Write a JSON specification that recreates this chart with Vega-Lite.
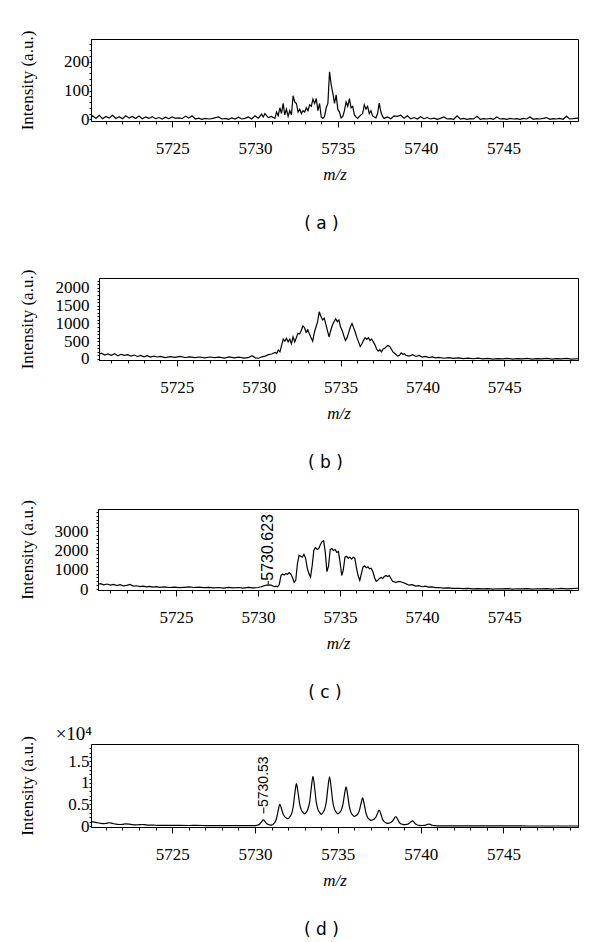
{
  "$schema": "https://vega.github.io/schema/vega-lite/v6.json",
  "background": "white",
  "padding": {"left": 16, "top": 29, "right": 5, "bottom": 2},
  "config": {
    "view": {"stroke": "black", "strokeWidth": 1},
    "axis": {"grid": false, "domainColor": "black", "tickColor": "black", "labelColor": "black", "titleColor": "black", "labelFont": "Liberation Serif", "titleFont": "Liberation Serif", "labelFontSize": 17, "titleFontSize": 17, "titleFontWeight": "normal", "domainWidth": 1, "labelOverlap": false, "labelBound": false},
    "title": {"font": "DejaVu Sans", "fontSize": 17, "fontWeight": "normal", "color": "black"}
  },
  "datasets": {
    "a": [
      {"mz":5720.1,"i":5},{"mz":5720.2,"i":12},{"mz":5720.4,"i":3},{"mz":5720.6,"i":14},{"mz":5720.8,"i":2},{"mz":5721.0,"i":10},{"mz":5721.2,"i":4},{"mz":5721.4,"i":14},{"mz":5721.6,"i":3},{"mz":5721.8,"i":9},{"mz":5722.0,"i":2},{"mz":5722.2,"i":12},{"mz":5722.4,"i":4},{"mz":5722.6,"i":10},{"mz":5722.8,"i":3},{"mz":5723.0,"i":11},{"mz":5723.2,"i":2},{"mz":5723.4,"i":8},{"mz":5723.6,"i":3},{"mz":5723.8,"i":9},{"mz":5724.0,"i":2},{"mz":5724.2,"i":6},{"mz":5724.4,"i":1},{"mz":5724.6,"i":7},{"mz":5724.8,"i":2},{"mz":5725.0,"i":8},{"mz":5725.2,"i":3},{"mz":5725.4,"i":5},{"mz":5725.6,"i":2},{"mz":5725.8,"i":11},{"mz":5726.0,"i":4},{"mz":5726.2,"i":12},{"mz":5726.4,"i":1},{"mz":5726.6,"i":4},{"mz":5726.8,"i":0},{"mz":5727.0,"i":3},{"mz":5727.2,"i":1},{"mz":5727.4,"i":2},{"mz":5727.8,"i":8},{"mz":5728.0,"i":1},{"mz":5728.2,"i":3},{"mz":5728.4,"i":0},{"mz":5728.6,"i":5},{"mz":5728.8,"i":1},{"mz":5729.0,"i":7},{"mz":5729.2,"i":1},{"mz":5729.4,"i":3},{"mz":5729.6,"i":8},{"mz":5729.8,"i":1},{"mz":5730.0,"i":12},{"mz":5730.2,"i":4},{"mz":5730.4,"i":18},{"mz":5730.5,"i":8},{"mz":5730.6,"i":20},{"mz":5730.8,"i":6},{"mz":5731.0,"i":10},{"mz":5731.2,"i":3},{"mz":5731.3,"i":25},{"mz":5731.4,"i":12},{"mz":5731.5,"i":40},{"mz":5731.6,"i":20},{"mz":5731.7,"i":55},{"mz":5731.8,"i":15},{"mz":5731.9,"i":35},{"mz":5732.0,"i":10},{"mz":5732.1,"i":30},{"mz":5732.2,"i":15},{"mz":5732.3,"i":82},{"mz":5732.4,"i":60},{"mz":5732.5,"i":55},{"mz":5732.6,"i":25},{"mz":5732.7,"i":35},{"mz":5732.8,"i":20},{"mz":5732.9,"i":30},{"mz":5733.0,"i":25},{"mz":5733.1,"i":40},{"mz":5733.2,"i":30},{"mz":5733.3,"i":50},{"mz":5733.4,"i":45},{"mz":5733.5,"i":70},{"mz":5733.6,"i":55},{"mz":5733.7,"i":72},{"mz":5733.8,"i":30},{"mz":5733.9,"i":55},{"mz":5734.0,"i":8},{"mz":5734.1,"i":3},{"mz":5734.2,"i":10},{"mz":5734.3,"i":40},{"mz":5734.4,"i":55},{"mz":5734.5,"i":165},{"mz":5734.6,"i":120},{"mz":5734.7,"i":90},{"mz":5734.8,"i":55},{"mz":5734.9,"i":85},{"mz":5735.0,"i":35},{"mz":5735.1,"i":25},{"mz":5735.2,"i":5},{"mz":5735.3,"i":10},{"mz":5735.4,"i":30},{"mz":5735.5,"i":60},{"mz":5735.6,"i":45},{"mz":5735.7,"i":72},{"mz":5735.8,"i":40},{"mz":5735.9,"i":45},{"mz":5736.0,"i":15},{"mz":5736.1,"i":8},{"mz":5736.2,"i":3},{"mz":5736.3,"i":10},{"mz":5736.5,"i":20},{"mz":5736.6,"i":50},{"mz":5736.7,"i":35},{"mz":5736.8,"i":45},{"mz":5736.9,"i":20},{"mz":5737.0,"i":30},{"mz":5737.1,"i":12},{"mz":5737.2,"i":8},{"mz":5737.3,"i":5},{"mz":5737.4,"i":20},{"mz":5737.5,"i":56},{"mz":5737.6,"i":25},{"mz":5737.7,"i":10},{"mz":5737.8,"i":3},{"mz":5738.0,"i":8},{"mz":5738.2,"i":2},{"mz":5738.4,"i":12},{"mz":5738.6,"i":10},{"mz":5738.8,"i":14},{"mz":5739.0,"i":4},{"mz":5739.2,"i":12},{"mz":5739.4,"i":2},{"mz":5739.6,"i":6},{"mz":5739.8,"i":1},{"mz":5740.0,"i":9},{"mz":5740.2,"i":2},{"mz":5740.4,"i":6},{"mz":5740.6,"i":1},{"mz":5740.8,"i":4},{"mz":5741.0,"i":0},{"mz":5741.2,"i":3},{"mz":5741.4,"i":8},{"mz":5741.6,"i":1},{"mz":5741.8,"i":2},{"mz":5742.0,"i":0},{"mz":5742.2,"i":12},{"mz":5742.4,"i":1},{"mz":5742.6,"i":3},{"mz":5742.8,"i":0},{"mz":5743.0,"i":2},{"mz":5743.2,"i":1},{"mz":5743.4,"i":10},{"mz":5743.6,"i":0},{"mz":5743.8,"i":2},{"mz":5744.0,"i":1},{"mz":5744.2,"i":3},{"mz":5744.4,"i":0},{"mz":5744.6,"i":8},{"mz":5744.8,"i":1},{"mz":5745.0,"i":2},{"mz":5745.2,"i":0},{"mz":5745.4,"i":3},{"mz":5745.6,"i":1},{"mz":5745.8,"i":2},{"mz":5746.0,"i":0},{"mz":5746.2,"i":3},{"mz":5746.4,"i":1},{"mz":5746.6,"i":8},{"mz":5746.8,"i":0},{"mz":5747.0,"i":2},{"mz":5747.2,"i":1},{"mz":5747.4,"i":3},{"mz":5747.6,"i":6},{"mz":5747.8,"i":0},{"mz":5748.0,"i":2},{"mz":5748.2,"i":1},{"mz":5748.4,"i":3},{"mz":5748.6,"i":0},{"mz":5748.8,"i":10},{"mz":5749.0,"i":1},{"mz":5749.2,"i":2},{"mz":5749.5,"i":4}
    ],
    "b": [
      {"mz":5720.25,"i":130},{"mz":5720.4,"i":160},{"mz":5720.6,"i":110},{"mz":5720.8,"i":140},{"mz":5721.0,"i":100},{"mz":5721.2,"i":150},{"mz":5721.4,"i":90},{"mz":5721.6,"i":130},{"mz":5721.8,"i":100},{"mz":5722.0,"i":120},{"mz":5722.2,"i":80},{"mz":5722.4,"i":110},{"mz":5722.6,"i":70},{"mz":5722.8,"i":100},{"mz":5723.0,"i":60},{"mz":5723.2,"i":90},{"mz":5723.4,"i":50},{"mz":5723.6,"i":80},{"mz":5723.8,"i":55},{"mz":5724.0,"i":70},{"mz":5724.3,"i":40},{"mz":5724.6,"i":65},{"mz":5724.9,"i":45},{"mz":5725.2,"i":70},{"mz":5725.5,"i":40},{"mz":5725.8,"i":60},{"mz":5726.1,"i":35},{"mz":5726.4,"i":55},{"mz":5726.7,"i":30},{"mz":5727.0,"i":55},{"mz":5727.3,"i":35},{"mz":5727.6,"i":50},{"mz":5727.9,"i":25},{"mz":5728.2,"i":55},{"mz":5728.5,"i":30},{"mz":5728.8,"i":50},{"mz":5729.1,"i":25},{"mz":5729.4,"i":45},{"mz":5729.6,"i":90},{"mz":5729.8,"i":30},{"mz":5730.0,"i":20},{"mz":5730.2,"i":60},{"mz":5730.4,"i":80},{"mz":5730.6,"i":120},{"mz":5730.8,"i":140},{"mz":5731.0,"i":180},{"mz":5731.1,"i":150},{"mz":5731.2,"i":250},{"mz":5731.3,"i":200},{"mz":5731.4,"i":380},{"mz":5731.5,"i":560},{"mz":5731.6,"i":500},{"mz":5731.7,"i":580},{"mz":5731.8,"i":480},{"mz":5731.9,"i":560},{"mz":5732.0,"i":430},{"mz":5732.1,"i":620},{"mz":5732.2,"i":480},{"mz":5732.3,"i":600},{"mz":5732.4,"i":720},{"mz":5732.5,"i":700},{"mz":5732.6,"i":800},{"mz":5732.7,"i":930},{"mz":5732.8,"i":880},{"mz":5732.9,"i":750},{"mz":5733.0,"i":820},{"mz":5733.1,"i":700},{"mz":5733.2,"i":600},{"mz":5733.3,"i":500},{"mz":5733.4,"i":750},{"mz":5733.5,"i":900},{"mz":5733.6,"i":1050},{"mz":5733.7,"i":1330},{"mz":5733.8,"i":1200},{"mz":5733.9,"i":1100},{"mz":5734.0,"i":1150},{"mz":5734.1,"i":980},{"mz":5734.2,"i":800},{"mz":5734.3,"i":620},{"mz":5734.4,"i":800},{"mz":5734.5,"i":950},{"mz":5734.6,"i":1050},{"mz":5734.7,"i":1130},{"mz":5734.8,"i":1050},{"mz":5734.9,"i":1100},{"mz":5735.0,"i":900},{"mz":5735.1,"i":800},{"mz":5735.2,"i":650},{"mz":5735.3,"i":520},{"mz":5735.4,"i":600},{"mz":5735.5,"i":750},{"mz":5735.6,"i":900},{"mz":5735.7,"i":1000},{"mz":5735.8,"i":880},{"mz":5735.9,"i":750},{"mz":5736.0,"i":600},{"mz":5736.1,"i":480},{"mz":5736.2,"i":350},{"mz":5736.3,"i":420},{"mz":5736.4,"i":520},{"mz":5736.5,"i":600},{"mz":5736.6,"i":550},{"mz":5736.7,"i":600},{"mz":5736.8,"i":520},{"mz":5736.9,"i":560},{"mz":5737.0,"i":480},{"mz":5737.1,"i":400},{"mz":5737.2,"i":280},{"mz":5737.3,"i":220},{"mz":5737.4,"i":260},{"mz":5737.5,"i":200},{"mz":5737.6,"i":280},{"mz":5737.7,"i":300},{"mz":5737.8,"i":350},{"mz":5737.9,"i":380},{"mz":5738.0,"i":350},{"mz":5738.1,"i":280},{"mz":5738.2,"i":200},{"mz":5738.3,"i":160},{"mz":5738.4,"i":120},{"mz":5738.5,"i":80},{"mz":5738.6,"i":100},{"mz":5738.7,"i":170},{"mz":5738.8,"i":130},{"mz":5738.9,"i":150},{"mz":5739.0,"i":100},{"mz":5739.2,"i":80},{"mz":5739.4,"i":120},{"mz":5739.6,"i":70},{"mz":5739.8,"i":100},{"mz":5740.0,"i":50},{"mz":5740.2,"i":70},{"mz":5740.4,"i":40},{"mz":5740.6,"i":60},{"mz":5740.8,"i":30},{"mz":5741.0,"i":45},{"mz":5741.3,"i":20},{"mz":5741.6,"i":35},{"mz":5741.9,"i":15},{"mz":5742.2,"i":30},{"mz":5742.5,"i":10},{"mz":5742.8,"i":25},{"mz":5743.1,"i":5},{"mz":5743.4,"i":20},{"mz":5743.7,"i":0},{"mz":5744.0,"i":15},{"mz":5744.3,"i":-5},{"mz":5744.6,"i":10},{"mz":5744.9,"i":0},{"mz":5745.2,"i":15},{"mz":5745.5,"i":-5},{"mz":5745.8,"i":10},{"mz":5746.1,"i":0},{"mz":5746.4,"i":15},{"mz":5746.7,"i":-5},{"mz":5747.0,"i":10},{"mz":5747.3,"i":0},{"mz":5747.6,"i":15},{"mz":5747.9,"i":-5},{"mz":5748.2,"i":10},{"mz":5748.5,"i":0},{"mz":5748.8,"i":15},{"mz":5749.1,"i":-5},{"mz":5749.5,"i":5}
    ],
    "c": [
      {"mz":5720.25,"i":250},{"mz":5720.4,"i":280},{"mz":5720.6,"i":220},{"mz":5720.8,"i":260},{"mz":5721.0,"i":200},{"mz":5721.2,"i":240},{"mz":5721.4,"i":180},{"mz":5721.6,"i":230},{"mz":5721.8,"i":160},{"mz":5722.0,"i":190},{"mz":5722.2,"i":240},{"mz":5722.4,"i":150},{"mz":5722.6,"i":170},{"mz":5722.8,"i":130},{"mz":5723.0,"i":150},{"mz":5723.2,"i":110},{"mz":5723.4,"i":140},{"mz":5723.6,"i":100},{"mz":5723.8,"i":120},{"mz":5724.0,"i":90},{"mz":5724.3,"i":110},{"mz":5724.6,"i":80},{"mz":5724.9,"i":100},{"mz":5725.2,"i":70},{"mz":5725.5,"i":90},{"mz":5725.8,"i":110},{"mz":5726.1,"i":80},{"mz":5726.4,"i":100},{"mz":5726.7,"i":70},{"mz":5727.0,"i":90},{"mz":5727.3,"i":60},{"mz":5727.6,"i":80},{"mz":5727.9,"i":50},{"mz":5728.2,"i":90},{"mz":5728.5,"i":60},{"mz":5728.8,"i":80},{"mz":5729.1,"i":50},{"mz":5729.4,"i":90},{"mz":5729.7,"i":60},{"mz":5730.0,"i":80},{"mz":5730.2,"i":120},{"mz":5730.4,"i":180},{"mz":5730.6,"i":220},{"mz":5730.8,"i":200},{"mz":5731.0,"i":120},{"mz":5731.1,"i":150},{"mz":5731.2,"i":120},{"mz":5731.3,"i":250},{"mz":5731.4,"i":700},{"mz":5731.5,"i":780},{"mz":5731.6,"i":730},{"mz":5731.7,"i":800},{"mz":5731.8,"i":760},{"mz":5731.9,"i":850},{"mz":5732.0,"i":780},{"mz":5732.1,"i":600},{"mz":5732.2,"i":350},{"mz":5732.3,"i":450},{"mz":5732.4,"i":1300},{"mz":5732.5,"i":1750},{"mz":5732.6,"i":1700},{"mz":5732.7,"i":1650},{"mz":5732.8,"i":1800},{"mz":5732.9,"i":1600},{"mz":5733.0,"i":1100},{"mz":5733.1,"i":800},{"mz":5733.2,"i":620},{"mz":5733.3,"i":1200},{"mz":5733.4,"i":2000},{"mz":5733.5,"i":2150},{"mz":5733.6,"i":2050},{"mz":5733.7,"i":2100},{"mz":5733.8,"i":2300},{"mz":5733.9,"i":2450},{"mz":5734.0,"i":2500},{"mz":5734.1,"i":1900},{"mz":5734.2,"i":900},{"mz":5734.3,"i":1200},{"mz":5734.4,"i":2050},{"mz":5734.5,"i":2100},{"mz":5734.6,"i":2000},{"mz":5734.7,"i":2050},{"mz":5734.8,"i":1900},{"mz":5734.9,"i":1950},{"mz":5735.0,"i":1400},{"mz":5735.1,"i":700},{"mz":5735.2,"i":1000},{"mz":5735.3,"i":1650},{"mz":5735.4,"i":1700},{"mz":5735.5,"i":1600},{"mz":5735.6,"i":1650},{"mz":5735.7,"i":1550},{"mz":5735.8,"i":1650},{"mz":5735.9,"i":1600},{"mz":5736.0,"i":1100},{"mz":5736.1,"i":700},{"mz":5736.2,"i":450},{"mz":5736.3,"i":800},{"mz":5736.4,"i":1150},{"mz":5736.5,"i":1200},{"mz":5736.6,"i":1100},{"mz":5736.7,"i":1150},{"mz":5736.8,"i":1050},{"mz":5736.9,"i":1080},{"mz":5737.0,"i":900},{"mz":5737.1,"i":600},{"mz":5737.2,"i":400},{"mz":5737.3,"i":450},{"mz":5737.4,"i":550},{"mz":5737.5,"i":600},{"mz":5737.6,"i":550},{"mz":5737.7,"i":650},{"mz":5737.8,"i":700},{"mz":5737.9,"i":650},{"mz":5738.0,"i":700},{"mz":5738.1,"i":550},{"mz":5738.2,"i":400},{"mz":5738.4,"i":350},{"mz":5738.6,"i":400},{"mz":5738.8,"i":350},{"mz":5739.0,"i":280},{"mz":5739.2,"i":200},{"mz":5739.4,"i":230},{"mz":5739.6,"i":150},{"mz":5739.8,"i":180},{"mz":5740.0,"i":120},{"mz":5740.2,"i":150},{"mz":5740.4,"i":100},{"mz":5740.6,"i":110},{"mz":5740.8,"i":70},{"mz":5741.0,"i":80},{"mz":5741.3,"i":50},{"mz":5741.6,"i":60},{"mz":5741.9,"i":30},{"mz":5742.2,"i":40},{"mz":5742.5,"i":20},{"mz":5742.8,"i":35},{"mz":5743.1,"i":10},{"mz":5743.4,"i":25},{"mz":5743.7,"i":5},{"mz":5744.0,"i":20},{"mz":5744.3,"i":0},{"mz":5744.6,"i":15},{"mz":5744.9,"i":5},{"mz":5745.2,"i":20},{"mz":5745.5,"i":0},{"mz":5745.8,"i":15},{"mz":5746.1,"i":5},{"mz":5746.4,"i":20},{"mz":5746.7,"i":0},{"mz":5747.0,"i":15},{"mz":5747.3,"i":5},{"mz":5747.6,"i":20},{"mz":5747.9,"i":0},{"mz":5748.2,"i":15},{"mz":5748.5,"i":30},{"mz":5748.8,"i":5},{"mz":5749.1,"i":20},{"mz":5749.5,"i":40}
    ],
    "d": [
      {"mz":5720.1,"i":1000},{"mz":5720.3,"i":900},{"mz":5720.5,"i":750},{"mz":5720.7,"i":600},{"mz":5720.9,"i":550},{"mz":5721.0,"i":600},{"mz":5721.2,"i":750},{"mz":5721.4,"i":600},{"mz":5721.6,"i":420},{"mz":5721.8,"i":350},{"mz":5722.0,"i":400},{"mz":5722.2,"i":500},{"mz":5722.4,"i":450},{"mz":5722.6,"i":320},{"mz":5722.8,"i":260},{"mz":5723.0,"i":300},{"mz":5723.2,"i":350},{"mz":5723.4,"i":260},{"mz":5723.6,"i":200},{"mz":5724.0,"i":180},{"mz":5724.5,"i":150},{"mz":5725.0,"i":160},{"mz":5725.5,"i":130},{"mz":5726.0,"i":120},{"mz":5726.5,"i":130},{"mz":5727.0,"i":110},{"mz":5727.5,"i":100},{"mz":5728.0,"i":110},{"mz":5728.5,"i":100},{"mz":5729.0,"i":90},{"mz":5729.5,"i":100},{"mz":5729.8,"i":110},{"mz":5730.0,"i":100},
      {"mz":5730.1,"i":165},{"mz":5730.2,"i":269},{"mz":5730.3,"i":516},{"mz":5730.4,"i":1010},{"mz":5730.5,"i":1400},{"mz":5730.6,"i":1040},{"mz":5730.7,"i":584},{"mz":5730.8,"i":356},{"mz":5730.9,"i":260},{"mz":5731.0,"i":200},
      {"mz":5731.1,"i":440},{"mz":5731.2,"i":824},{"mz":5731.3,"i":1736},{"mz":5731.4,"i":3560},{"mz":5731.5,"i":5000},{"mz":5731.6,"i":4010},{"mz":5731.7,"i":2756},{"mz":5731.8,"i":2129},{"mz":5731.9,"i":1865},{"mz":5732.0,"i":1700},
      {"mz":5732.1,"i":2105},{"mz":5732.2,"i":2753},{"mz":5732.3,"i":4292},{"mz":5732.4,"i":7370},{"mz":5732.5,"i":9800},{"mz":5732.6,"i":7700},{"mz":5732.7,"i":5040},{"mz":5732.8,"i":3710},{"mz":5732.9,"i":3150},{"mz":5733.0,"i":2800},
      {"mz":5733.1,"i":3235},{"mz":5733.2,"i":3931},{"mz":5733.3,"i":5584},{"mz":5733.4,"i":8890},{"mz":5733.5,"i":11500},{"mz":5733.6,"i":8860},{"mz":5733.7,"i":5516},{"mz":5733.8,"i":3844},{"mz":5733.9,"i":3140},{"mz":5734.0,"i":2700},
      {"mz":5734.1,"i":3135},{"mz":5734.2,"i":3831},{"mz":5734.3,"i":5484},{"mz":5734.4,"i":8790},{"mz":5734.5,"i":11400},{"mz":5734.6,"i":8820},{"mz":5734.7,"i":5552},{"mz":5734.8,"i":3918},{"mz":5734.9,"i":3230},{"mz":5735.0,"i":2800},
      {"mz":5735.1,"i":3115},{"mz":5735.2,"i":3619},{"mz":5735.3,"i":4816},{"mz":5735.4,"i":7210},{"mz":5735.5,"i":9100},{"mz":5735.6,"i":7030},{"mz":5735.7,"i":4408},{"mz":5735.8,"i":3097},{"mz":5735.9,"i":2545},{"mz":5736.0,"i":2200},
      {"mz":5736.1,"i":2415},{"mz":5736.2,"i":2759},{"mz":5736.3,"i":3576},{"mz":5736.4,"i":5210},{"mz":5736.5,"i":6500},{"mz":5736.6,"i":4940},{"mz":5736.7,"i":2964},{"mz":5736.8,"i":1976},{"mz":5736.9,"i":1560},{"mz":5737.0,"i":1300},
      {"mz":5737.1,"i":1420},{"mz":5737.2,"i":1612},{"mz":5737.3,"i":2068},{"mz":5737.4,"i":2980},{"mz":5737.5,"i":3700},{"mz":5737.6,"i":2770},{"mz":5737.7,"i":1592},{"mz":5737.8,"i":1003},{"mz":5737.9,"i":755},{"mz":5738.0,"i":600},
      {"mz":5738.1,"i":680},{"mz":5738.2,"i":808},{"mz":5738.3,"i":1112},{"mz":5738.4,"i":1720},{"mz":5738.5,"i":2200},{"mz":5738.6,"i":1630},{"mz":5738.7,"i":908},{"mz":5738.8,"i":547},{"mz":5738.9,"i":395},{"mz":5739.0,"i":300},
      {"mz":5739.1,"i":345},{"mz":5739.2,"i":417},{"mz":5739.3,"i":588},{"mz":5739.4,"i":930},{"mz":5739.5,"i":1200},{"mz":5739.6,"i":870},{"mz":5739.7,"i":452},{"mz":5739.8,"i":243},{"mz":5739.9,"i":155},{"mz":5740.0,"i":100},
      {"mz":5740.1,"i":118},{"mz":5740.2,"i":146},{"mz":5740.3,"i":212},{"mz":5740.4,"i":345},{"mz":5740.5,"i":450},{"mz":5740.6,"i":330},{"mz":5740.7,"i":178},{"mz":5740.8,"i":102},{"mz":5740.9,"i":70},{"mz":5741.0,"i":50},
      {"mz":5741.5,"i":40},{"mz":5742.0,"i":30},{"mz":5743.0,"i":20},{"mz":5744.0,"i":15},{"mz":5745.0,"i":10},{"mz":5746.0,"i":10},{"mz":5747.0,"i":5},{"mz":5748.0,"i":5},{"mz":5749.5,"i":5}
    ]
  },
  "vconcat": [
    {
      "vconcat": [
        {
          "hconcat": [
            {"width": 1, "height": 1, "view": {"stroke": null}, "data": {"values": [{}]}, "mark": {"type": "text"}, "encoding": {"text": {"value": ""}}},
            {
              "width": 487, "height": 82,
              "title": {"text": "( a )", "orient": "bottom", "anchor": "middle", "frame": "group", "offset": 34, "dx": -13},
              "data": {"name": "a"},
              "mark": {"type": "line", "color": "black", "strokeWidth": 1.2, "interpolate": "linear"},
              "encoding": {
                "x": {"field": "mz", "type": "quantitative", "scale": {"domain": [5720.1, 5749.5], "nice": false, "zero": false},
                      "axis": {"title": "m/z", "titleFontStyle": "italic", "format": "d", "labelOverlap": false, "values": [5721,5722,5723,5724,5725,5726,5727,5728,5729,5730,5731,5732,5733,5734,5735,5736,5737,5738,5739,5740,5741,5742,5743,5744,5745,5746,5747,5748,5749], "labelExpr": "datum.value % 5 === 0 ? datum.label : ''", "tickSize": {"condition": {"test": "datum.value % 5 === 0", "value": 6}, "value": 3}, "labelPadding": 13, "titlePadding": 10, "labelFlush": false}},
                "y": {"field": "i", "type": "quantitative", "scale": {"domain": [-6, 279], "nice": false, "zero": false},
                      "axis": {"title": "Intensity (a.u.)", "format": "d", "labelOverlap": false, "values": [0,20,40,60,80,100,120,140,160,180,200,220,240,260], "labelExpr": "datum.value % 100 === 0 ? datum.label : ''", "tickSize": 2, "labelPadding": 0, "minExtent": 51, "maxExtent": 51, "titlePadding": 4}}
              }
            }
          ],
          "spacing": 0
        },
        {
          "hconcat": [
            {"width": 1, "height": 1, "view": {"stroke": null}, "data": {"values": [{}]}, "mark": {"type": "text"}, "encoding": {"text": {"value": ""}}},
            {
              "width": 479, "height": 82,
              "title": {"text": "( b )", "orient": "bottom", "anchor": "middle", "frame": "group", "offset": 34, "dx": -13},
              "data": {"name": "b"},
              "mark": {"type": "line", "color": "black", "strokeWidth": 1.2, "interpolate": "linear"},
              "encoding": {
                "x": {"field": "mz", "type": "quantitative", "scale": {"domain": [5720.25, 5749.5], "nice": false, "zero": false},
                      "axis": {"title": "m/z", "titleFontStyle": "italic", "format": "d", "labelOverlap": false, "values": [5721,5722,5723,5724,5725,5726,5727,5728,5729,5730,5731,5732,5733,5734,5735,5736,5737,5738,5739,5740,5741,5742,5743,5744,5745,5746,5747,5748,5749], "labelExpr": "datum.value % 5 === 0 ? datum.label : ''", "tickSize": {"condition": {"test": "datum.value % 5 === 0", "value": 6}, "value": 3}, "labelPadding": 13, "titlePadding": 10, "labelFlush": false}},
                "y": {"field": "i", "type": "quantitative", "scale": {"domain": [-30, 2280], "nice": false, "zero": false},
                      "axis": {"title": "Intensity (a.u.)", "format": "d", "labelOverlap": false, "values": [0,100,200,300,400,500,600,700,800,900,1000,1100,1200,1300,1400,1500,1600,1700,1800,1900,2000,2100,2200], "labelExpr": "datum.value % 500 === 0 ? datum.label : ''", "tickSize": 2, "labelPadding": 8, "minExtent": 59, "maxExtent": 59, "titlePadding": 4}}
              }
            }
          ],
          "spacing": 0
        }
      ],
      "spacing": 35, "bounds": "full", "align": "none"
    },
    {
      "vconcat": [
        {
          "hconcat": [
            {"width": 1, "height": 1, "view": {"stroke": null}, "data": {"values": [{}]}, "mark": {"type": "text"}, "encoding": {"text": {"value": ""}}},
            {
              "width": 480, "height": 81,
              "title": {"text": "( c )", "orient": "bottom", "anchor": "middle", "frame": "group", "offset": 34, "dx": -13},
              "layer": [
                {
                  "data": {"name": "c"},
                  "mark": {"type": "line", "color": "black", "strokeWidth": 1.2, "interpolate": "linear"},
                  "encoding": {
                    "x": {"field": "mz", "type": "quantitative", "scale": {"domain": [5720.25, 5749.5], "nice": false, "zero": false},
                          "axis": {"title": "m/z", "titleFontStyle": "italic", "format": "d", "labelOverlap": false, "values": [5721,5722,5723,5724,5725,5726,5727,5728,5729,5730,5731,5732,5733,5734,5735,5736,5737,5738,5739,5740,5741,5742,5743,5744,5745,5746,5747,5748,5749], "labelExpr": "datum.value % 5 === 0 ? datum.label : ''", "tickSize": {"condition": {"test": "datum.value % 5 === 0", "value": 6}, "value": 3}, "labelPadding": 13, "titlePadding": 10, "labelFlush": false}},
                    "y": {"field": "i", "type": "quantitative", "scale": {"domain": [-50, 4150], "nice": false, "zero": false},
                          "axis": {"title": "Intensity (a.u.)", "format": "d", "labelOverlap": false, "values": [0,200,400,600,800,1000,1200,1400,1600,1800,2000,2200,2400,2600,2800,3000,3200,3400,3600,3800,4000], "labelExpr": "datum.value % 1000 === 0 && datum.value <= 3000 ? datum.label : ''", "tickSize": 2, "labelPadding": 8, "minExtent": 58, "maxExtent": 58, "titlePadding": 4}}
                  }
                },
                {
                  "data": {"values": [{"mz": 5730.623, "i": 260, "i2": 420}]},
                  "mark": {"type": "rule", "color": "black", "strokeWidth": 1},
                  "encoding": {
                    "x": {"field": "mz", "type": "quantitative", "axis": {"title": "m/z", "titleFontStyle": "italic", "format": "d", "labelOverlap": false, "values": [5721,5722,5723,5724,5725,5726,5727,5728,5729,5730,5731,5732,5733,5734,5735,5736,5737,5738,5739,5740,5741,5742,5743,5744,5745,5746,5747,5748,5749], "labelExpr": "datum.value % 5 === 0 ? datum.label : ''", "tickSize": {"condition": {"test": "datum.value % 5 === 0", "value": 6}, "value": 3}, "labelPadding": 13, "titlePadding": 10, "labelFlush": false}},
                    "y": {"field": "i", "type": "quantitative", "axis": {"title": "Intensity (a.u.)", "format": "d", "labelOverlap": false, "values": [0,200,400,600,800,1000,1200,1400,1600,1800,2000,2200,2400,2600,2800,3000,3200,3400,3600,3800,4000], "labelExpr": "datum.value % 1000 === 0 && datum.value <= 3000 ? datum.label : ''", "tickSize": 2, "labelPadding": 8, "minExtent": 58, "maxExtent": 58, "titlePadding": 4}},
                    "y2": {"field": "i2"}
                  }
                },
                {
                  "data": {"values": [{"mz": 5730.623, "i": 430, "label": "5730.623"}]},
                  "mark": {"type": "text", "angle": 270, "align": "left", "baseline": "middle", "font": "Liberation Sans", "fontSize": 16, "color": "black"},
                  "encoding": {
                    "x": {"field": "mz", "type": "quantitative", "axis": {"title": "m/z", "titleFontStyle": "italic", "format": "d", "labelOverlap": false, "values": [5721,5722,5723,5724,5725,5726,5727,5728,5729,5730,5731,5732,5733,5734,5735,5736,5737,5738,5739,5740,5741,5742,5743,5744,5745,5746,5747,5748,5749], "labelExpr": "datum.value % 5 === 0 ? datum.label : ''", "tickSize": {"condition": {"test": "datum.value % 5 === 0", "value": 6}, "value": 3}, "labelPadding": 13, "titlePadding": 10, "labelFlush": false}},
                    "y": {"field": "i", "type": "quantitative", "axis": {"title": "Intensity (a.u.)", "format": "d", "labelOverlap": false, "values": [0,200,400,600,800,1000,1200,1400,1600,1800,2000,2200,2400,2600,2800,3000,3200,3400,3600,3800,4000], "labelExpr": "datum.value % 1000 === 0 && datum.value <= 3000 ? datum.label : ''", "tickSize": 2, "labelPadding": 8, "minExtent": 58, "maxExtent": 58, "titlePadding": 4}},
                    "text": {"field": "label"}
                  }
                }
              ]
            }
          ],
          "spacing": 0
        },
        {
          "hconcat": [
            {"width": 1, "height": 1, "view": {"stroke": null}, "data": {"values": [{}]}, "mark": {"type": "text"}, "encoding": {"text": {"value": ""}}},
            {
              "width": 487, "height": 83,
              "title": {"text": "( d )", "orient": "bottom", "anchor": "middle", "frame": "group", "offset": 34, "dx": -13},
              "layer": [
                {
                  "data": {"name": "d"},
                  "mark": {"type": "line", "color": "black", "strokeWidth": 1.2, "interpolate": "monotone"},
                  "encoding": {
                    "x": {"field": "mz", "type": "quantitative", "scale": {"domain": [5720.1, 5749.5], "nice": false, "zero": false},
                          "axis": {"title": "m/z", "titleFontStyle": "italic", "format": "d", "labelOverlap": false, "values": [5721,5722,5723,5724,5725,5726,5727,5728,5729,5730,5731,5732,5733,5734,5735,5736,5737,5738,5739,5740,5741,5742,5743,5744,5745,5746,5747,5748,5749], "labelExpr": "datum.value % 5 === 0 ? datum.label : ''", "tickSize": {"condition": {"test": "datum.value % 5 === 0", "value": 6}, "value": 3}, "labelPadding": 13, "titlePadding": 10, "labelFlush": false}},
                    "y": {"field": "i", "type": "quantitative", "scale": {"domain": [-230, 19000], "nice": false, "zero": false},
                          "axis": {"title": "Intensity (a.u.)", "labelOverlap": false, "values": [0,1000,2000,3000,4000,5000,6000,7000,8000,9000,10000,11000,12000,13000,14000,15000,16000,17000,18000], "labelExpr": "datum.value % 5000 === 0 ? '' + (datum.value / 10000) : ''", "tickSize": 2, "labelPadding": 0, "minExtent": 51, "maxExtent": 51, "titlePadding": 4}}
                  }
                },
                {
                  "data": {"values": [{"mz": 5730.53, "i": 2900, "i2": 4300}]},
                  "mark": {"type": "rule", "color": "black", "strokeWidth": 1},
                  "encoding": {
                    "x": {"field": "mz", "type": "quantitative", "axis": {"title": "m/z", "titleFontStyle": "italic", "format": "d", "labelOverlap": false, "values": [5721,5722,5723,5724,5725,5726,5727,5728,5729,5730,5731,5732,5733,5734,5735,5736,5737,5738,5739,5740,5741,5742,5743,5744,5745,5746,5747,5748,5749], "labelExpr": "datum.value % 5 === 0 ? datum.label : ''", "tickSize": {"condition": {"test": "datum.value % 5 === 0", "value": 6}, "value": 3}, "labelPadding": 13, "titlePadding": 10, "labelFlush": false}},
                    "y": {"field": "i", "type": "quantitative", "axis": {"title": "Intensity (a.u.)", "labelOverlap": false, "values": [0,1000,2000,3000,4000,5000,6000,7000,8000,9000,10000,11000,12000,13000,14000,15000,16000,17000,18000], "labelExpr": "datum.value % 5000 === 0 ? '' + (datum.value / 10000) : ''", "tickSize": 2, "labelPadding": 0, "minExtent": 51, "maxExtent": 51, "titlePadding": 4}},
                    "y2": {"field": "i2"}
                  }
                },
                {
                  "data": {"values": [{"mz": 5730.53, "i": 4400, "label": "5730.53"}]},
                  "mark": {"type": "text", "angle": 270, "align": "left", "baseline": "middle", "font": "Liberation Sans", "fontSize": 14, "color": "black"},
                  "encoding": {
                    "x": {"field": "mz", "type": "quantitative", "axis": {"title": "m/z", "titleFontStyle": "italic", "format": "d", "labelOverlap": false, "values": [5721,5722,5723,5724,5725,5726,5727,5728,5729,5730,5731,5732,5733,5734,5735,5736,5737,5738,5739,5740,5741,5742,5743,5744,5745,5746,5747,5748,5749], "labelExpr": "datum.value % 5 === 0 ? datum.label : ''", "tickSize": {"condition": {"test": "datum.value % 5 === 0", "value": 6}, "value": 3}, "labelPadding": 13, "titlePadding": 10, "labelFlush": false}},
                    "y": {"field": "i", "type": "quantitative", "axis": {"title": "Intensity (a.u.)", "labelOverlap": false, "values": [0,1000,2000,3000,4000,5000,6000,7000,8000,9000,10000,11000,12000,13000,14000,15000,16000,17000,18000], "labelExpr": "datum.value % 5000 === 0 ? '' + (datum.value / 10000) : ''", "tickSize": 2, "labelPadding": 0, "minExtent": 51, "maxExtent": 51, "titlePadding": 4}},
                    "text": {"field": "label"}
                  }
                },
                {
                  "data": {"values": [{"mz": 5720.1, "i": 19000, "label": "×10⁴"}]},
                  "mark": {"type": "text", "align": "right", "baseline": "bottom", "font": "Liberation Serif", "fontSize": 19, "color": "black", "dx": 1},
                  "encoding": {
                    "x": {"field": "mz", "type": "quantitative", "axis": {"title": "m/z", "titleFontStyle": "italic", "format": "d", "labelOverlap": false, "values": [5721,5722,5723,5724,5725,5726,5727,5728,5729,5730,5731,5732,5733,5734,5735,5736,5737,5738,5739,5740,5741,5742,5743,5744,5745,5746,5747,5748,5749], "labelExpr": "datum.value % 5 === 0 ? datum.label : ''", "tickSize": {"condition": {"test": "datum.value % 5 === 0", "value": 6}, "value": 3}, "labelPadding": 13, "titlePadding": 10, "labelFlush": false}},
                    "y": {"field": "i", "type": "quantitative", "axis": {"title": "Intensity (a.u.)", "labelOverlap": false, "values": [0,1000,2000,3000,4000,5000,6000,7000,8000,9000,10000,11000,12000,13000,14000,15000,16000,17000,18000], "labelExpr": "datum.value % 5000 === 0 ? '' + (datum.value / 10000) : ''", "tickSize": 2, "labelPadding": 0, "minExtent": 51, "maxExtent": 51, "titlePadding": 4}},
                    "text": {"field": "label"}
                  }
                }
              ]
            }
          ],
          "spacing": 0
        }
      ],
      "spacing": 22, "bounds": "full", "align": "none"
    }
  ],
  "spacing": 27, "bounds": "full", "align": "none"
}
